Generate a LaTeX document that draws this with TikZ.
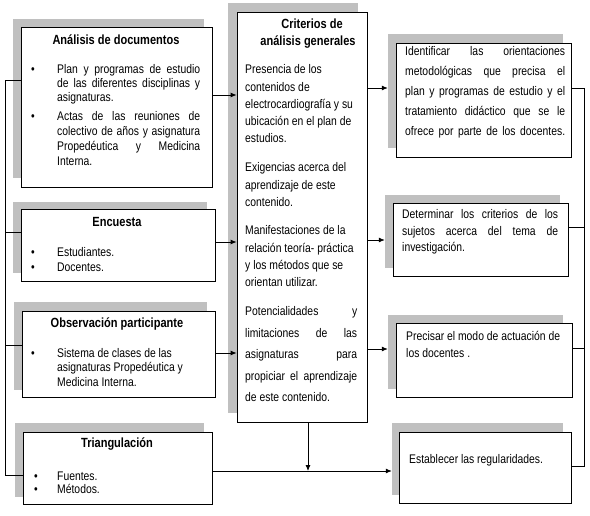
\documentclass[tikz,border=0pt]{standalone}
\usepackage{fontspec}
\setmainfont{Liberation Sans}[FakeStretch=0.83]
\usetikzlibrary{fit,arrows.meta}
\definecolor{shadowgray}{RGB}{192,192,192}
\newcommand{\jl}[2][143pt]{\makebox[#1][s]{#2}}
\begin{document}
\begin{tikzpicture}[x=1pt,y=-1pt,
  shadowbox/.style={fill=shadowgray, draw=none, inner sep=0pt},
  mainbox/.style={draw=black, fill=white, line width=0.8pt, inner sep=0pt},
  txt/.style={inner sep=0pt, anchor=base west, font=\fontsize{12.5}{14}\selectfont},
  ttl/.style={inner sep=0pt, anchor=base, font=\fontsize{13.3}{15}\selectfont\bfseries},
  bul/.style={inner sep=0pt, anchor=base, font=\fontsize{12.5}{12}\selectfont},
  conn/.style={line width=0.8pt},
  arr/.style={conn, -{Latex[length=6pt,width=5pt]}}]
\useasboundingbox (0,0) rectangle (590,516);
% shadows
\node[shadowbox, fit={(13,19)(204,178)}] (As) {};
\node[shadowbox, fit={(13,202)(207,273)}] (Es) {};
\node[shadowbox, fit={(14,302)(207,390)}] (Os) {};
\node[shadowbox, fit={(15,423)(204,497)}] (Ts) {};
\node[shadowbox, fit={(228,3)(358,413)}] (Cs) {};
\node[shadowbox, fit={(388,34)(563,148)}] (Rs1) {};
\node[shadowbox, fit={(385,195)(560,268)}] (Rs2) {};
\node[shadowbox, fit={(388,315)(563,389)}] (Rs3) {};
\node[shadowbox, fit={(392,423)(563,495)}] (Rs4) {};
% boxes
\node[mainbox, fit={(21,27)(212,187)}] (A) {};
\node[mainbox, fit={(21,209)(215,281)}] (E) {};
\node[mainbox, fit={(22,311)(215,397)}] (O) {};
\node[mainbox, fit={(23,432)(212,504)}] (T) {};
\node[mainbox, fit={(237,12)(367,422)}] (C) {};
\node[mainbox, fit={(396,43)(571,157)}] (R1) {};
\node[mainbox, fit={(393,203)(568,276)}] (R2) {};
\node[mainbox, fit={(396,323)(572,397)}] (R3) {};
\node[mainbox, fit={(399,432)(571,503)}] (R4) {};
% left bus
\coordinate (L0) at (5,80);
\coordinate (L1) at (5,232);
\coordinate (L2) at (5,345);
\coordinate (L3) at (5,475);
\draw[conn] (L0 -| A.west) -- (L0) -- (L3) -- (L3 -| T.west);
\draw[conn] (L1) -- (L1 -| E.west);
\draw[conn] (L2) -- (L2 -| O.west);
% arrows into Criterios
\coordinate (a1) at (0,95);
\coordinate (a2) at (0,242);
\coordinate (a3) at (0,353);
\draw[arr] (a1 -| A.east) -- (a1 -| C.west);
\draw[arr] (a2 -| E.east) -- (a2 -| C.west);
\draw[arr] (a3 -| O.east) -- (a3 -| C.west);
% arrows out of Criterios
\coordinate (b1) at (0,88);
\coordinate (b2) at (0,240);
\coordinate (b3) at (0,349);
\draw[arr] (b1 -| C.east) -- (b1 -| Rs1.west);
\draw[arr] (b2 -| C.east) -- (b2 -| Rs2.west);
\draw[arr] (b3 -| C.east) -- (b3 -| Rs3.west);
% bottom
\coordinate (h) at (0,471);
\coordinate (v) at (308,0);
\draw[arr] (h -| T.east) -- (h -| Rs4.west);
\draw[arr] (v |- C.south) -- (v |- h);
% right bus
\coordinate (r1) at (584,88);
\coordinate (r2) at (584,227);
\coordinate (r3) at (584,348);
\coordinate (r4) at (584,466);
\draw[conn] (r1 -| R1.east) -- (r1) -- (r4) -- (r4 -| R4.east);
\draw[conn] (r2 -| R2.east) -- (r2);
\draw[conn] (r3 -| R3.east) -- (r3);
% Analisis text
\node[ttl] (At) at (116,45) {Análisis de documentos};
\node[bul] (Ab1) at (33,74) {•};
\foreach \t [count=\i from 0] in {\jl{Plan y programas de estudio},\jl{de las diferentes disciplinas y},asignaturas.}
  \node[txt] (Aa\i) at (57,74+14*\i) {\t};
\node[bul] (Ab2) at (33,121) {•};
\foreach \t [count=\i from 0] in {\jl{Actas de las reuniones de},\jl{colectivo de años y asignatura},\jl{Propedéutica y Medicina},Interna.}
  \node[txt] (Ab\i) at (57,121+15*\i) {\t};
% Encuesta
\node[ttl] (Et) at (117,227) {Encuesta};
\node[bul] (Eb1) at (33,257) {•};
\node[bul] (Eb2) at (33,272) {•};
\node[txt] (Ea1) at (57,257) {Estudiantes.};
\node[txt] (Ea2) at (57,272) {Docentes.};
% Observacion
\node[ttl] (Ot) at (117,327) {Observación participante};
\node[bul] (Ob1) at (33,357) {•};
\foreach \t [count=\i from 0] in {Sistema de clases de las,asignaturas Propedéutica y,Medicina Interna.}
  \node[txt] (Oa\i) at (57,357+14.5*\i) {\t};
% Triangulacion
\node[ttl] (Tt) at (117,447) {Triangulación};
\node[bul] (Tb1) at (36,480) {•};
\node[bul] (Tb2) at (36,493) {•};
\node[txt] (Ta1) at (57,480) {Fuentes.};
\node[txt] (Ta2) at (57,493) {Métodos.};
% Criterios
\node[ttl] (Ct1) at (312,29) {Criterios de};
\node[ttl] (Ct2) at (308,46) {análisis generales};
\foreach \t [count=\i from 0] in {Presencia de los,contenidos de,electrocardiografía y su,ubicación en el plan de,estudios.}
  \node[txt] (Cp\i) at (245,74+17.25*\i) {\t};
\foreach \t [count=\i from 0] in {Exigencias acerca del,aprendizaje de este,contenido.}
  \node[txt] (Cq\i) at (245,172+17.5*\i) {\t};
\foreach \t [count=\i from 0] in {Manifestaciones de la,relación teoría- práctica,y los métodos que se,orientan utilizar.}
  \node[txt] (Cr\i) at (245,235+17.3*\i) {\t};
\foreach \t [count=\i from 0] in {\jl[112pt]{Potencialidades y},\jl[112pt]{limitaciones de las},\jl[112pt]{asignaturas para},\jl[112pt]{propiciar el aprendizaje},de este contenido.}
  \node[txt] (Cs\i) at (245,316+21.5*\i) {\t};
% Right texts
\foreach \t [count=\i from 0] in {\jl[160pt]{Identificar las orientaciones},\jl[160pt]{metodológicas que precisa el},\jl[160pt]{plan y programas de estudio y el},\jl[160pt]{tratamiento didáctico que se le},\jl[160pt]{ofrece por parte de los docentes.}}
  \node[txt] (Ra\i) at (405,56+20*\i) {\t};
\foreach \t [count=\i from 0] in {\jl[156pt]{Determinar los criterios de los},\jl[156pt]{sujetos acerca del tema de},investigación.}
  \node[txt] (Rb\i) at (402,219+16.5*\i) {\t};
\node[txt] (Rc1) at (406,341) {Precisar el modo de actuación de};
\node[txt] (Rc2) at (406,358) {los docentes .};
\node[txt] (Rd1) at (409,463) {Establecer las regularidades.};
\end{tikzpicture}
\end{document}
